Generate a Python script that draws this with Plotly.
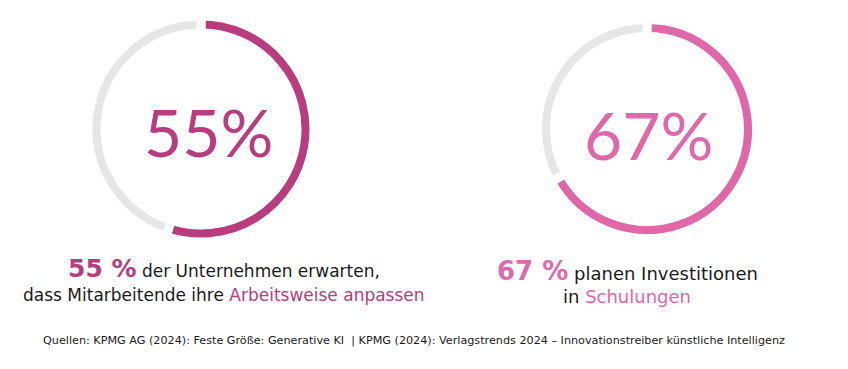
import plotly.graph_objects as go

# figure size: the page has an 8px body margin, so figure is 8px smaller than window
OFF = 8
W, H = 848 - OFF, 369 - OFF

def px(x):
    return (x - OFF) / W

def py(y):
    return 1 - (y - OFF) / H

# Data
shares = [55, 67]
share_labels = ["55%", "67%"]
colors = ["#B83C7E", "#E068A8"]
rest_color = "#E6E6E6"
caption_line1 = ["der Unternehmen erwarten,", "planen Investitionen"]
caption_line2_plain = ["dass Mitarbeitende ihre ", "in "]
caption_line2_hl = ["Arbeitsweise anpassen", "Schulungen"]
source_text = ("Quellen: KPMG AG (2024): Feste Größe: Generative KI  | KPMG (2024): "
               "Verlagstrends 2024 – Innovationstreiber künstliche Intelligenz")

# layout geometry (screen pixels)
centers = [(201, 129), (647, 129)]
outer_vis = [108.5, 105]
ring = 8
gap = 9

fig = go.Figure()
for i, v in enumerate(shares):
    cx, cy = centers[i]
    R = outer_vis[i] + gap / 2
    r_in = outer_vis[i] - ring - gap / 2
    fig.add_trace(go.Pie(
        values=[v, 100 - v],
        labels=["ja", "nein"],
        marker=dict(colors=[colors[i], rest_color], line=dict(color="white", width=gap)),
        hole=r_in / R,
        sort=False,
        direction="clockwise",
        rotation=0,
        textinfo="none",
        hoverinfo="none",
        showlegend=False,
        domain=dict(x=[px(cx - R), px(cx + R)], y=[py(cy + R), py(cy - R)]),
    ))

num_pos = [(208, 131), (648, 134)]
for i in range(len(shares)):
    fig.add_annotation(
        x=px(num_pos[i][0]), y=py(num_pos[i][1]), xref="paper", yref="paper",
        text=share_labels[i], showarrow=False,
        font=dict(family="Lato", size=66, color=colors[i], weight=400),
        xanchor="center", yanchor="middle",
    )

cap_cx = [224, 627]
cap_y1 = [268, 271]
cap_y2 = [295, 296]
cap_size = [17, 18]
cap_bold = [25, 26]
for i, v in enumerate(shares):
    fig.add_annotation(
        x=px(cap_cx[i]), y=py(cap_y1[i]), xref="paper", yref="paper",
        text=(f"<span style='color:{colors[i]};font-size:{cap_bold[i]}px'><b>{v} %</b></span> "
              f"{caption_line1[i]}"),
        showarrow=False, xanchor="center", yanchor="middle",
        font=dict(family="DejaVu Sans", size=cap_size[i], color="#1a1a1a"),
    )
    fig.add_annotation(
        x=px(cap_cx[i]), y=py(cap_y2[i]), xref="paper", yref="paper",
        text=(f"{caption_line2_plain[i]}"
              f"<span style='color:{colors[i]}'>{caption_line2_hl[i]}</span>"),
        showarrow=False, xanchor="center", yanchor="middle",
        font=dict(family="DejaVu Sans", size=cap_size[i], color="#1a1a1a"),
    )

fig.add_annotation(
    x=px(414), y=py(340), xref="paper", yref="paper",
    text=source_text, showarrow=False, xanchor="center", yanchor="middle",
    font=dict(family="DejaVu Sans", size=11.2, color="#1a1a1a"),
)

fig.update_layout(
    width=W, height=H,
    margin=dict(l=0, r=0, t=0, b=0),
    paper_bgcolor="white", plot_bgcolor="white",
)

fig.write_html("out.html")
